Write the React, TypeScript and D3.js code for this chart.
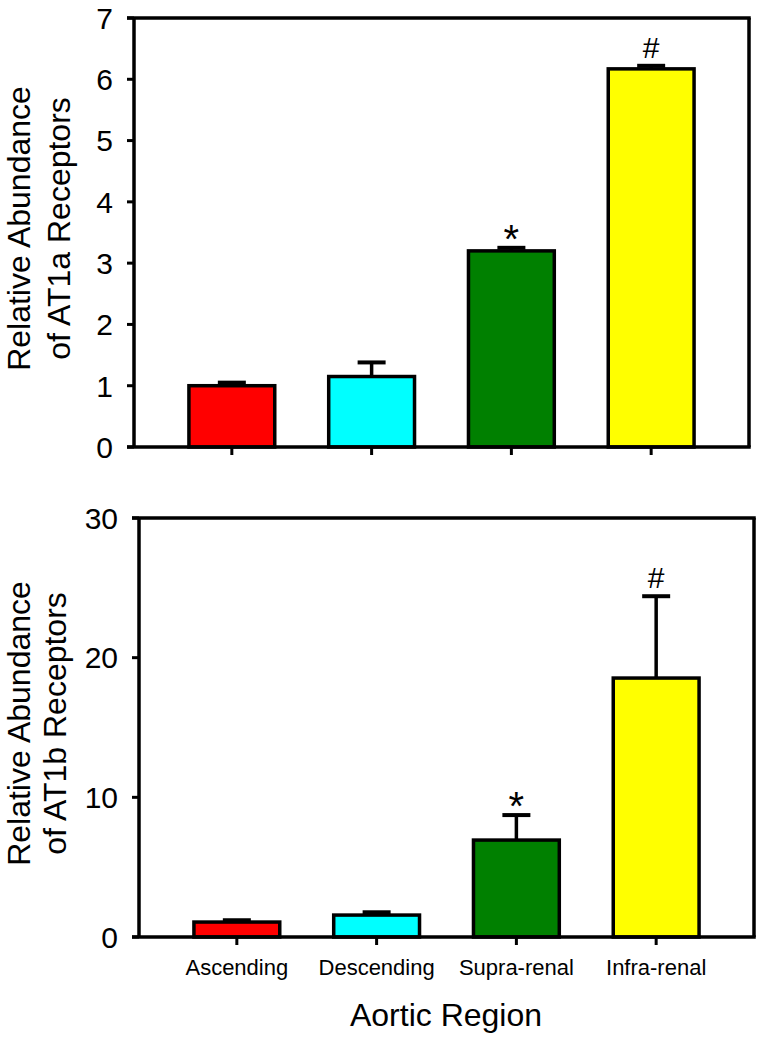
import React from "react";
import * as d3 from "d3";

const categories = ["Ascending", "Descending", "Supra-renal", "Infra-renal"];
const barColors = ["#FF0000", "#00FFFF", "#008000", "#FFFF00"];

const at1aMeans = [1.0, 1.15, 3.2, 6.17];
const at1aErrors = [0.05, 0.23, 0.05, 0.05];
const at1aMarks = ["", "", "*", "#"];
const at1aTicks = [0, 1, 2, 3, 4, 5, 6, 7];

const at1bMeans = [1.07, 1.57, 6.94, 18.54];
const at1bErrors = [0.13, 0.2, 1.79, 5.86];
const at1bMarks = ["", "", "*", "#"];
const at1bTicks = [0, 10, 20, 30];

const FONT = "'Liberation Sans', Arial, sans-serif";

type PanelProps = {
  left: number;
  right: number;
  top: number;
  bottom: number;
  means: number[];
  errors: number[];
  marks: string[];
  ticks: number[];
  title: string[];
  titleX: number[];
  showCategories: boolean;
};

function Panel(p: PanelProps) {
  const x = d3
    .scaleBand<string>()
    .domain(categories)
    .range([p.left, p.right])
    .paddingInner(0.386)
    .paddingOuter(0.393);
  const y = d3
    .scaleLinear()
    .domain([0, d3.max(p.ticks) as number])
    .range([p.bottom, p.top]);
  const bw = x.bandwidth();
  const tickLen = 7;
  const lw = 3.5;
  const capW = 28;
  const midY = (p.top + p.bottom) / 2 - 4;
  return (
    <g>
      {categories.map((c, i) => {
        const x0 = x(c) as number;
        const yTop = y(p.means[i]);
        const yErr = y(p.means[i] + p.errors[i]);
        const cx = x0 + bw / 2;
        const isStar = p.marks[i] === "*";
        return (
          <g key={c}>
            <line x1={cx} x2={cx} y1={yTop} y2={yErr} stroke="#000" strokeWidth={lw} />
            <line x1={cx - capW / 2} x2={cx + capW / 2} y1={yErr} y2={yErr} stroke="#000" strokeWidth={4} />
            <rect
              x={x0}
              y={yTop}
              width={bw}
              height={y(0) - yTop}
              fill={barColors[i]}
              stroke="#000"
              strokeWidth={3.5}
            />
            {p.marks[i] && (
              <text
                x={cx}
                y={isStar ? yErr + 5 : yErr - 8}
                textAnchor="middle"
                fontFamily={FONT}
                fontSize={isStar ? 40 : 30}
              >
                {p.marks[i]}
              </text>
            )}
            <line x1={cx} x2={cx} y1={y(0)} y2={y(0) + 8} stroke="#000" strokeWidth={3} />
          </g>
        );
      })}
      <line x1={p.left - tickLen} x2={p.right + lw / 2} y1={p.top} y2={p.top} stroke="#000" strokeWidth={lw} />
      <line x1={p.left - tickLen} x2={p.right + lw / 2} y1={p.bottom} y2={p.bottom} stroke="#000" strokeWidth={lw} />
      <line x1={p.left} x2={p.left} y1={p.top} y2={p.bottom} stroke="#000" strokeWidth={lw} />
      <line x1={p.right} x2={p.right} y1={p.top} y2={p.bottom} stroke="#000" strokeWidth={lw} />
      {p.ticks.map((t) => (
        <g key={t}>
          <line x1={p.left - tickLen} x2={p.left} y1={y(t)} y2={y(t)} stroke="#000" strokeWidth={3} />
          <text
            x={p.left - 21}
            y={y(t)}
            dy="0.36em"
            textAnchor="end"
            fontFamily={FONT}
            fontSize={30}
          >
            {t}
          </text>
        </g>
      ))}
      {p.title.map((line, k) => (
        <text
          key={k}
          transform={`translate(${p.titleX[k]},${midY}) rotate(-90)`}
          textAnchor="middle"
          fontFamily={FONT}
          fontSize={32}
        >
          {line}
        </text>
      ))}
      {p.showCategories &&
        categories.map((c) => (
          <text
            key={c}
            x={(x(c) as number) + bw / 2}
            y={975}
            textAnchor="middle"
            fontFamily={FONT}
            fontSize={22}
          >
            {c}
          </text>
        ))}
    </g>
  );
}

export default function App() {
  return (
    <svg
      width={762}
      height={1040}
      style={{ position: "absolute", left: 0, top: 0, background: "#fff" }}
    >
      <rect x={0} y={0} width={762} height={1040} fill="#fff" />
      <Panel
        left={134}
        right={749}
        top={18}
        bottom={447}
        means={at1aMeans}
        errors={at1aErrors}
        marks={at1aMarks}
        ticks={at1aTicks}
        title={["Relative Abundance", "of AT1a Receptors"]}
        titleX={[30, 70]}
        showCategories={false}
      />
      <Panel
        left={139}
        right={754}
        top={518}
        bottom={937}
        means={at1bMeans}
        errors={at1bErrors}
        marks={at1bMarks}
        ticks={at1bTicks}
        title={["Relative Abundance", "of AT1b Receptors"]}
        titleX={[30, 66]}
        showCategories={true}
      />
      <text x={446} y={1026} textAnchor="middle" fontFamily={FONT} fontSize={32}>
        Aortic Region
      </text>
    </svg>
  );
}
